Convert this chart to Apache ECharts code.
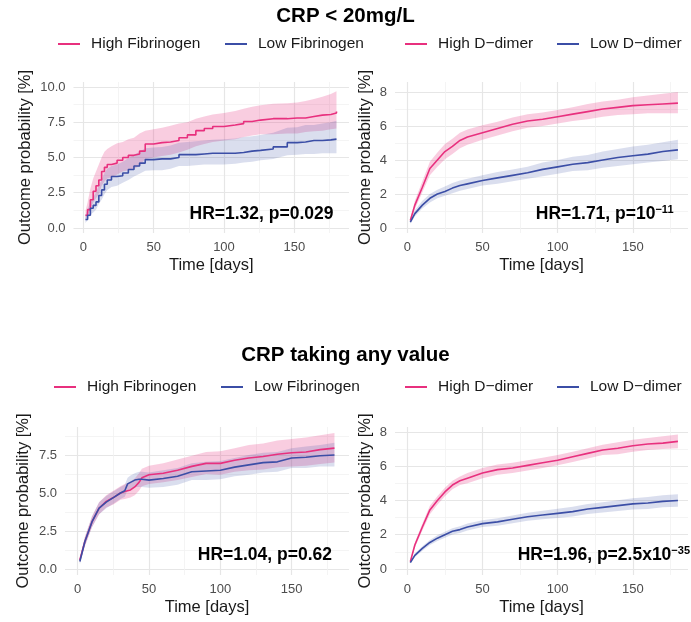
<!DOCTYPE html>
<html>
<head>
<meta charset="utf-8">
<script src="https://cdn.jsdelivr.net/npm/echarts@6/dist/echarts.min.js"></script>
<style>
html,body{margin:0;padding:0;background:#fff;}
#c{width:691px;height:622px;}
</style>
</head>
<body>
<div id="c"></div>
<script>
// ---------- DATA ----------
// Panel 1: CRP < 20mg/L, Fibrinogen (step curves)
const t1 = [1.5,3,5,7,9,11,13,15,17,20,24,28,32,36,40,44,50,56,62,68,74,80,86,92,100,108,114,120,126,135,145,152,158,164,170,176,180];
const hf1 = [0.9,1.3,2.0,2.6,3.0,3.4,4.0,4.3,4.5,4.6,4.8,5.0,5.15,5.25,5.45,5.95,6.05,6.1,6.2,6.4,6.6,6.9,7.05,7.2,7.3,7.4,7.55,7.65,7.75,7.75,7.8,7.8,7.9,8.0,8.05,8.15,8.25];
const hf1Hi = [1.2,1.8,2.8,3.5,4.0,4.5,5.0,5.4,5.6,5.8,6.0,6.1,6.3,6.4,6.7,6.9,7.0,7.1,7.25,7.4,7.5,7.75,7.9,8.05,8.15,8.3,8.45,8.6,8.7,8.8,8.85,8.9,9.0,9.15,9.3,9.5,9.7];
const hf1Lo = [0.6,0.9,1.3,1.8,2.1,2.4,3.0,3.3,3.5,3.6,3.8,4.0,4.1,4.2,4.4,4.9,5.0,5.1,5.2,5.35,5.55,5.8,5.95,6.1,6.2,6.3,6.45,6.55,6.65,6.65,6.7,6.7,6.8,6.85,6.9,7.0,7.05];
const lf1 = [0.6,0.9,1.4,1.6,1.85,2.3,2.7,3.1,3.4,3.65,3.7,3.9,4.15,4.4,4.6,4.85,4.9,4.9,5.0,5.2,5.2,5.25,5.3,5.3,5.3,5.35,5.45,5.5,5.6,5.75,6.05,6.1,6.2,6.2,6.25,6.3,6.35];
const lf1Hi = [0.9,1.3,1.9,2.2,2.5,3.0,3.4,3.9,4.2,4.4,4.5,4.7,4.95,5.2,5.4,5.65,5.7,5.75,5.85,6.05,6.1,6.15,6.2,6.25,6.3,6.35,6.45,6.5,6.6,6.75,7.1,7.15,7.3,7.3,7.4,7.5,7.6];
const lf1Lo = [0.35,0.55,0.95,1.1,1.3,1.7,2.0,2.4,2.7,2.9,3.0,3.2,3.4,3.65,3.85,4.05,4.1,4.1,4.2,4.4,4.4,4.45,4.5,4.5,4.5,4.55,4.65,4.7,4.8,4.9,5.15,5.2,5.25,5.25,5.3,5.3,5.3];

// Panel 2: CRP < 20mg/L, D-dimer
const t2 = [2,5,10,15,20,25,30,35,40,50,60,70,80,90,100,110,120,130,140,150,160,170,180];
const hd2 = [0.45,1.35,2.4,3.5,4.0,4.5,4.8,5.15,5.35,5.6,5.85,6.1,6.3,6.4,6.55,6.7,6.85,7.0,7.1,7.2,7.25,7.3,7.35];
const hd2Hi = [0.55,1.6,2.75,3.9,4.45,4.95,5.25,5.6,5.8,6.05,6.25,6.5,6.7,6.8,6.95,7.1,7.3,7.45,7.55,7.7,7.8,7.9,8.0];
const hd2Lo = [0.35,1.1,2.1,3.1,3.6,4.05,4.35,4.7,4.9,5.2,5.45,5.7,5.9,6.0,6.15,6.3,6.4,6.55,6.65,6.7,6.75,6.75,6.75];
const ld2 = [0.35,0.85,1.35,1.75,2.0,2.15,2.35,2.5,2.6,2.8,2.95,3.1,3.25,3.45,3.6,3.75,3.85,4.0,4.15,4.25,4.35,4.5,4.6];
const ld2Hi = [0.45,1.05,1.6,2.0,2.25,2.45,2.65,2.8,2.9,3.1,3.3,3.45,3.6,3.85,4.0,4.2,4.3,4.5,4.65,4.8,4.9,5.05,5.2];
const ld2Lo = [0.25,0.7,1.15,1.5,1.75,1.9,2.05,2.2,2.3,2.5,2.6,2.75,2.9,3.05,3.2,3.35,3.4,3.55,3.65,3.75,3.85,3.95,4.05];

// Panel 3: CRP any value, Fibrinogen
const t3 = [1.5,5,10,15,20,25,30,33,35,37,40,43,45,50,60,70,80,90,100,110,120,130,140,150,160,170,180];
const hf3 = [0.6,1.8,3.1,4.0,4.45,4.7,5.0,5.1,5.15,5.2,5.4,5.7,6.0,6.2,6.3,6.5,6.75,6.95,6.95,7.15,7.3,7.4,7.55,7.65,7.7,7.85,7.95];
const hf3Hi = [0.8,2.1,3.45,4.4,4.85,5.15,5.45,5.6,5.65,5.75,5.95,6.3,6.6,6.8,6.95,7.2,7.45,7.7,7.75,7.95,8.15,8.25,8.45,8.55,8.65,8.8,8.95];
const hf3Lo = [0.4,1.5,2.75,3.6,4.05,4.25,4.55,4.6,4.65,4.7,4.85,5.15,5.45,5.6,5.7,5.85,6.05,6.25,6.2,6.4,6.5,6.55,6.7,6.75,6.8,6.9,7.0];
const lf3 = [0.5,1.8,3.1,4.0,4.4,4.7,5.0,5.15,5.6,5.7,5.85,5.9,5.9,5.85,5.95,6.1,6.4,6.45,6.5,6.7,6.85,7.0,7.05,7.3,7.35,7.45,7.5];
const lf3Hi = [0.7,2.1,3.45,4.4,4.8,5.1,5.4,5.55,6.0,6.15,6.3,6.4,6.4,6.35,6.5,6.65,6.95,7.05,7.1,7.3,7.5,7.65,7.7,7.95,8.05,8.15,8.3];
const lf3Lo = [0.3,1.5,2.75,3.6,4.0,4.3,4.6,4.75,5.2,5.25,5.4,5.4,5.4,5.35,5.4,5.55,5.85,5.85,5.9,6.1,6.2,6.35,6.4,6.65,6.65,6.75,6.75];

// Panel 4: CRP any value, D-dimer
const t4 = [2,5,10,15,20,25,30,35,40,50,60,70,80,90,100,110,120,130,140,150,160,170,180];
const hd4 = [0.43,1.4,2.45,3.45,4.0,4.5,4.9,5.15,5.3,5.6,5.8,5.9,6.05,6.2,6.35,6.55,6.75,6.95,7.05,7.2,7.3,7.35,7.45];
const hd4Hi = [0.5,1.55,2.65,3.7,4.25,4.75,5.15,5.4,5.6,5.9,6.1,6.2,6.35,6.5,6.65,6.85,7.05,7.25,7.4,7.55,7.65,7.75,7.85];
const hd4Lo = [0.36,1.25,2.25,3.2,3.75,4.25,4.65,4.9,5.0,5.3,5.5,5.6,5.75,5.9,6.05,6.25,6.45,6.65,6.7,6.85,6.95,7.0,7.05];
const ld4 = [0.37,0.8,1.2,1.55,1.8,2.0,2.2,2.3,2.45,2.65,2.75,2.9,3.05,3.15,3.25,3.35,3.5,3.6,3.7,3.8,3.85,3.95,4.0];
const ld4Hi = [0.42,0.9,1.33,1.7,1.97,2.18,2.38,2.5,2.65,2.85,2.97,3.13,3.28,3.4,3.52,3.63,3.79,3.9,4.01,4.13,4.2,4.3,4.37];
const ld4Lo = [0.32,0.7,1.07,1.4,1.63,1.82,2.02,2.1,2.25,2.45,2.53,2.67,2.82,2.9,2.98,3.07,3.21,3.3,3.39,3.47,3.5,3.6,3.63];

// Tick labels
const xTicks = [0,50,100,150];
const xMinor = [25,75,125,175];
const yTicksA = [0,2.5,5,7.5,10];
const yMinorA = [1.25,3.75,6.25,8.75];
const yTicksB = [0,2,4,6,8];
const yMinorB = [1,3,5,7];
const yTicksC = [0,2.5,5,7.5];

// Text
const titleTop = 'CRP < 20mg/L';
const titleBottom = 'CRP taking any value';
const nameHF = 'High Fibrinogen', nameLF = 'Low Fibrinogen', nameHD = 'High D\u2212dimer', nameLD = 'Low D\u2212dimer';
const xName = 'Time [days]';
const yName = 'Outcome probability [%]';

// ---------- STYLE ----------
const PINK = '#E8307E', BLUE = '#3B4EA6';
const PINK_BAND = 'rgba(232,48,126,0.24)', BLUE_BAND = 'rgba(59,78,166,0.19)';
const FONT = 'Liberation Sans';

const grids = [
  {left:73.5, top:82, width:275.5, height:151},
  {left:395, top:82, width:293, height:151},
  {left:65, top:427, width:284, height:148},
  {left:395, top:427, width:293, height:148}
];
const xr = [[-7,188.9],[-8.2,186.7],[-8.9,190.2],[-8.2,186.7]];
const yr = [[-0.355,10.35],[-0.29,8.59],[-0.39,9.34],[-0.35,8.29]];
const yMajor = [yTicksA, yTicksB, yTicksC, yTicksB];
const yMin = [yMinorA, yMinorB, yMinorA, yMinorB];
const yFmt = [v=>Number(v).toFixed(1), v=>String(Math.round(v)), v=>Number(v).toFixed(1), v=>String(Math.round(v))];
const yNameGap = [40, 21, 33, 21];

const xAxes = [], yAxes = [];
grids.forEach((g, i) => {
  xAxes.push({
    type:'value', gridIndex:i, min:xr[i][0], max:xr[i][1],
    axisLine:{show:false}, axisTick:{show:false, customValues:xTicks},
    axisLabel:{customValues:xTicks, margin:8, fontSize:13, color:'#4D4D4D', fontFamily:FONT, formatter:v=>String(Math.round(v))},
    splitLine:{show:true, customValues:xTicks, lineStyle:{color:'#E6E6E6', width:1.2}},
    name:xName, nameLocation:'middle', nameGap:24,
    nameTextStyle:{fontSize:16.5, color:'#1A1A1A', fontFamily:FONT}
  });
  xAxes.push({
    type:'value', gridIndex:i, min:xr[i][0], max:xr[i][1],
    axisLine:{show:false}, axisTick:{show:false, customValues:xMinor},
    axisLabel:{show:false, customValues:xMinor},
    splitLine:{show:true, customValues:xMinor, lineStyle:{color:'#F1F1F1', width:0.8}}
  });
  yAxes.push({
    type:'value', gridIndex:i, min:yr[i][0], max:yr[i][1],
    axisLine:{show:false}, axisTick:{show:false, customValues:yMajor[i]},
    axisLabel:{customValues:yMajor[i], margin:8, fontSize:13, color:'#4D4D4D', fontFamily:FONT, formatter:yFmt[i]},
    splitLine:{show:true, customValues:yMajor[i], lineStyle:{color:'#E6E6E6', width:1.2}},
    name:yName, nameLocation:'middle', nameGap:yNameGap[i], nameRotate:90,
    nameTextStyle:{fontSize:16.5, color:'#1A1A1A', fontFamily:FONT}
  });
  yAxes.push({
    type:'value', gridIndex:i, min:yr[i][0], max:yr[i][1],
    axisLine:{show:false}, axisTick:{show:false, customValues:yMin[i]},
    axisLabel:{show:false, customValues:yMin[i]},
    splitLine:{show:true, customValues:yMin[i], lineStyle:{color:'#F1F1F1', width:0.8}}
  });
});

function band(id, t, lo, hi, fill, g) {
  return {
    type:'custom', name:id, xAxisIndex:2*g, yAxisIndex:2*g, silent:true, z:1,
    data:[[t[0], lo[0]]],
    renderItem:function(params, api){
      const pts = [];
      for (let i = 0; i < t.length; i++) pts.push(api.coord([t[i], hi[i]]));
      for (let i = t.length - 1; i >= 0; i--) pts.push(api.coord([t[i], lo[i]]));
      return {type:'polygon', shape:{points:pts}, style:{fill:fill, stroke:null}};
    }
  };
}
function curve(name, t, v, color, g, step) {
  return {
    type:'line', name:name, xAxisIndex:2*g, yAxisIndex:2*g, z:3,
    data:t.map((x,i)=>[x, v[i]]), step: step ? 'end' : false,
    showSymbol:false, symbol:'none', color:color,
    lineStyle:{color:color, width:1.6}, itemStyle:{color:color}
  };
}

const series = [
  band('b_hf1', t1, hf1Lo, hf1Hi, PINK_BAND, 0),
  band('b_lf1', t1, lf1Lo, lf1Hi, BLUE_BAND, 0),
  curve(nameHF, t1, hf1, PINK, 0, true),
  curve(nameLF, t1, lf1, BLUE, 0, true),

  band('b_hd2', t2, hd2Lo, hd2Hi, PINK_BAND, 1),
  band('b_ld2', t2, ld2Lo, ld2Hi, BLUE_BAND, 1),
  curve(nameHD, t2, hd2, PINK, 1, false),
  curve(nameLD, t2, ld2, BLUE, 1, false),

  band('b_hf3', t3, hf3Lo, hf3Hi, PINK_BAND, 2),
  band('b_lf3', t3, lf3Lo, lf3Hi, BLUE_BAND, 2),
  curve(nameHF, t3, hf3, PINK, 2, false),
  curve(nameLF, t3, lf3, BLUE, 2, false),

  band('b_hd4', t4, hd4Lo, hd4Hi, PINK_BAND, 3),
  band('b_ld4', t4, ld4Lo, ld4Hi, BLUE_BAND, 3),
  curve(nameHD, t4, hd4, PINK, 3, false),
  curve(nameLD, t4, ld4, BLUE, 3, false)
];

function leg(name, left, top) {
  return {
    data:[{name:name, icon:'rect'}], left:left, top:top, padding:0,
    itemWidth:22, itemHeight:2, selectedMode:false,
    textStyle:{fontSize:15.5, color:'#1A1A1A', fontFamily:FONT, lineHeight:18, padding:[0,0,0,6]}
  };
}
const legends = [
  leg(nameHF, 58, 35), leg(nameLF, 225, 35), leg(nameHD, 405, 35), leg(nameLD, 557, 35),
  leg(nameHF, 54, 378), leg(nameLF, 221, 378), leg(nameHD, 405, 378), leg(nameLD, 557, 378)
];

const richHR = {
  b:{fontSize:17.5, fontWeight:'bold', color:'#000', fontFamily:FONT, lineHeight:20},
  s:{fontSize:11, fontWeight:'bold', color:'#000', fontFamily:FONT, verticalAlign:'top', lineHeight:12}
};
function hr(text, right, top) {
  return {text:text, right:right, top:top, padding:0, textStyle:{rich:richHR, fontSize:17.5, fontWeight:'bold', fontFamily:FONT}};
}
const titles = [
  {text:titleTop, left:'center', top:6, padding:0, textStyle:{fontSize:20.5, fontWeight:'bold', color:'#000', fontFamily:FONT}},
  {text:titleBottom, left:'center', top:345, padding:0, textStyle:{fontSize:20.5, fontWeight:'bold', color:'#000', fontFamily:FONT}},
  hr('{b|HR=1.32, p=0.029}', 691-333.5, 204),
  hr('{b|HR=1.71, p=10}{s|\u221211}', 691-673.5, 204),
  hr('{b|HR=1.04, p=0.62}', 691-332, 545),
  hr('{b|HR=1.96, p=2.5x10}{s|\u221235}', 691-690, 545)
];

const chart = echarts.init(document.getElementById('c'), null, {renderer:'canvas'});
chart.setOption({
  animation:false,
  backgroundColor:'#fff',
  title:titles,
  legend:legends,
  grid:grids.map(g=>Object.assign({containLabel:false, outerBoundsMode:'none'}, g)),
  xAxis:xAxes,
  yAxis:yAxes,
  series:series
});
</script>
</body>
</html>
